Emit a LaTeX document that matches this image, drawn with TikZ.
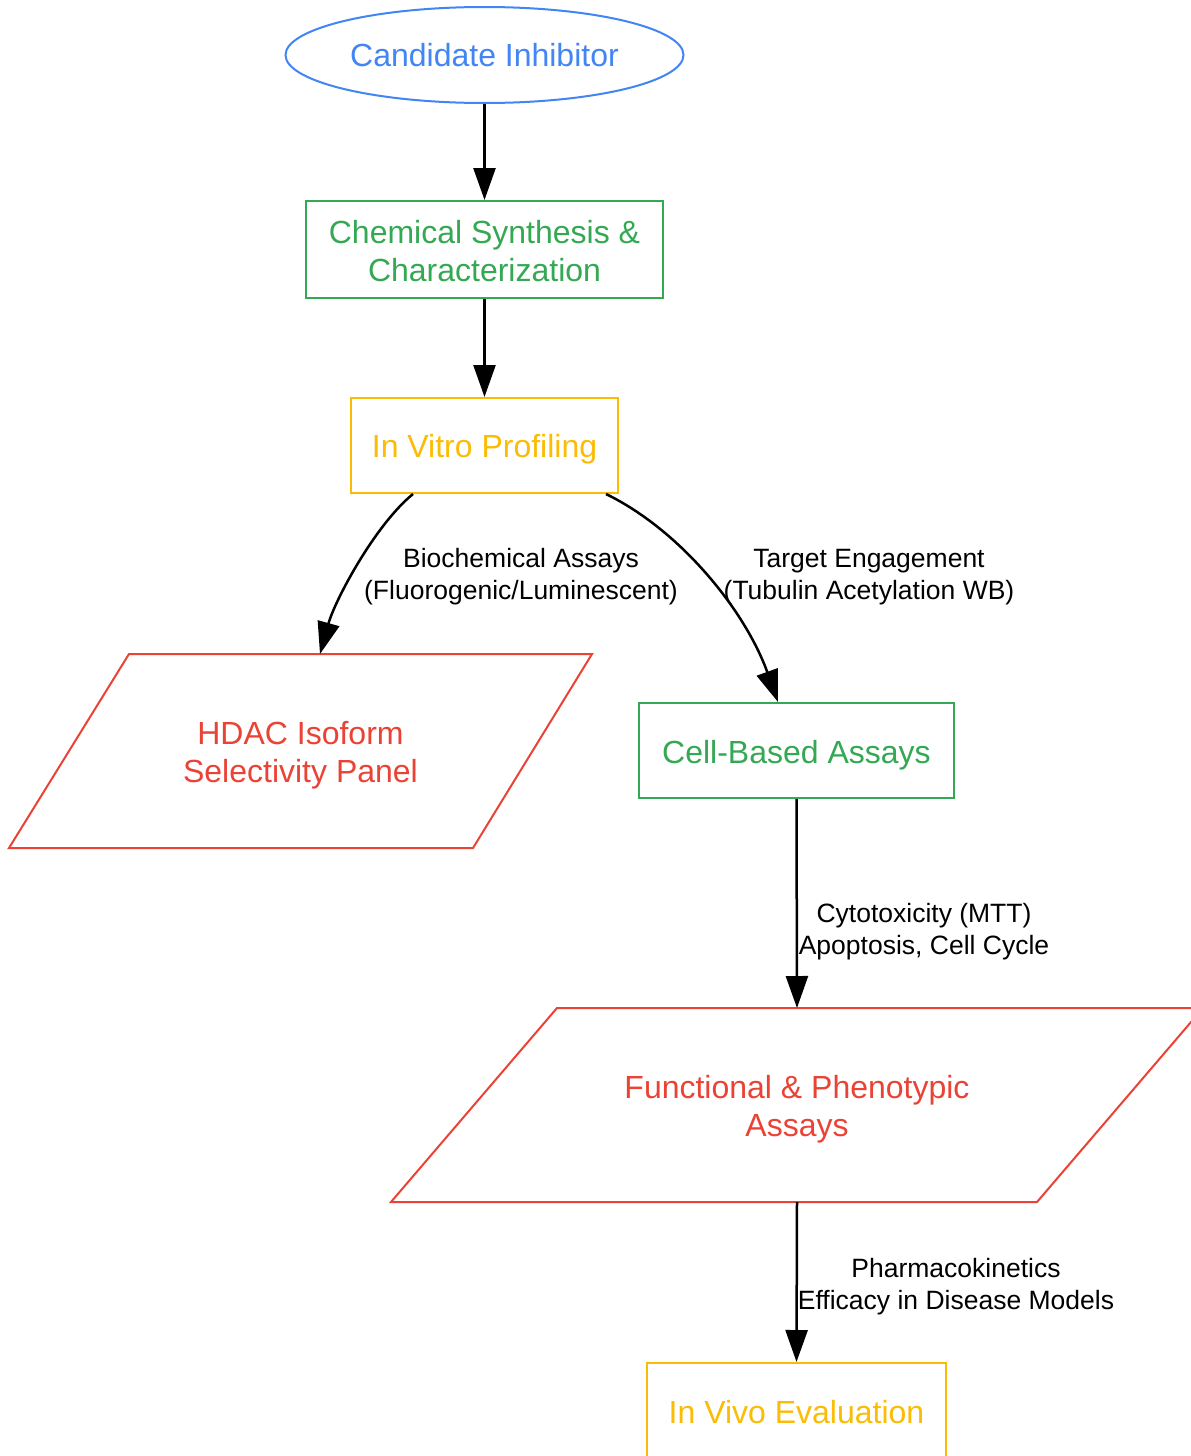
\documentclass[tikz,border=0pt]{standalone}
\usepackage{fontspec}
\setmainfont{Liberation Sans}
\usetikzlibrary{arrows.meta,shapes.geometric}
\definecolor{gblue}{HTML}{4285F4}
\definecolor{ggreen}{HTML}{34A853}
\definecolor{gyellow}{HTML}{FBBC05}
\definecolor{gred}{HTML}{EA4335}
\tikzset{
  ntext/.style={font=\fontsize{32}{38}\selectfont, align=center, inner sep=0pt},
  boxnode/.style={draw, line width=2pt, rectangle, inner sep=0pt},
  elab/.style={font=\fontsize{26.5}{32}\selectfont, align=center, inner sep=1pt, text=black},
  conn/.style={draw=black, line width=2.5pt, -{Triangle[length=32pt,width=22pt]}},
  pshape/.style={draw=gred, line width=2pt, line join=miter},
}
\begin{document}
\begin{tikzpicture}[x=1pt,y=-1pt]
\useasboundingbox (0,0) rectangle (1191,1456);
\clip (0,0) rectangle (1191,1456);
\fill[white] (0,0) rectangle (1191,1456);

% shapes
\node[ellipse, draw=gblue, line width=2pt, minimum width=398, minimum height=96] (cand) at (484.5,55) {};
\node[boxnode, draw=ggreen, minimum width=357, minimum height=97] (chem) at (484.5,249.5) {};
\node[boxnode, draw=gyellow, minimum width=267, minimum height=95] (vitro) at (484.5,445.5) {};
\draw[pshape] (129,654) -- (592,654) -- (473,848) -- (9,848) -- cycle;
\coordinate (hdactop) at (320,654);
\node[boxnode, draw=ggreen, minimum width=315, minimum height=95] (cell) at (796.5,750.5) {};
\draw[pshape] (557,1008) -- (1203,1008) -- (1037,1202) -- (391,1202) -- cycle;
\coordinate (functop) at (797,1008);
\coordinate (funcbot) at (797,1202);
\node[boxnode, draw=gyellow, minimum width=299, minimum height=97] (vivo) at (796.5,1411.5) {};

% texts
\node[ntext, text=gblue] (candt) at (484.5,55) {Candidate Inhibitor};
\node[ntext, text=ggreen] (chemt) at (484.5,251) {Chemical Synthesis \&\\Characterization};
\node[ntext, text=gyellow] (vitrot) at (484.5,449) {In Vitro Profiling};
\node[ntext, text=gred] (hdact) at (300.5,755) {HDAC Isoform\\Selectivity Panel};
\node[ntext, text=ggreen] (cellt) at (796.5,755) {Cell-Based Assays};
\node[ntext, text=gred] (funct) at (797,1109) {Functional \& Phenotypic\\Assays};
\node[ntext, text=gyellow] (vivot) at (796.5,1412.5) {In Vivo Evaluation};

% connectors
\draw[conn] (cand.south) -- (chem.north);
\draw[conn] (chem.south) -- (vitro.north);
\draw[conn] ([xshift=-71.5pt]vitro.south) .. controls (375,525) and (335,600) .. (hdactop);
\draw[conn] ([xshift=121.5pt]vitro.south) .. controls (680,530) and (745,610) .. ([xshift=-18.5pt]cell.north);
\draw[conn] (cell.south) -- (functop);
\draw[conn] (funcbot) -- (vivo.north);

% edge labels
\node[elab] (l1) at (521,577) {Biochemical Assays\\(Fluorogenic/Luminescent)};
\node[elab] (l2) at (869,577) {Target Engagement\\(Tubulin Acetylation WB)};
\node[elab] (l3) at (924,932) {Cytotoxicity (MTT)\\Apoptosis, Cell Cycle};
\node[elab] (l4) at (956,1287) {Pharmacokinetics\\Efficacy in Disease Models};
\end{tikzpicture}
\end{document}
